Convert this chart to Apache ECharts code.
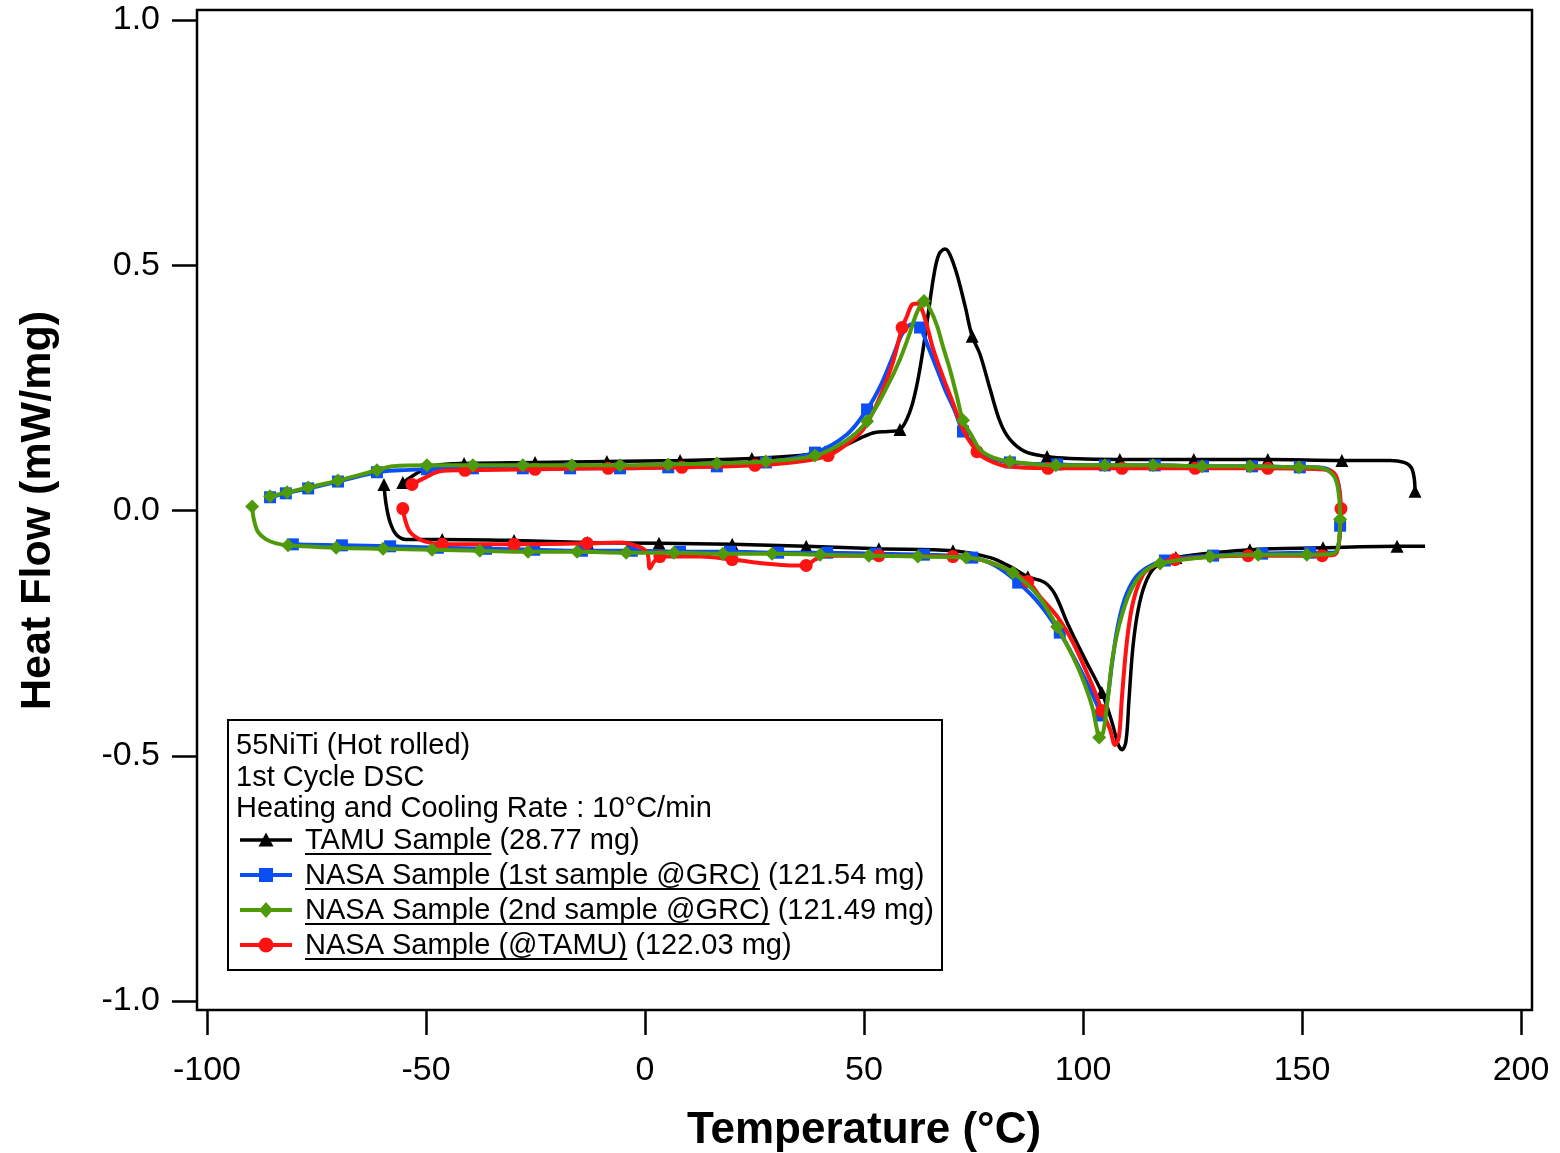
<!DOCTYPE html>
<html><head><meta charset="utf-8">
<script src="https://cdn.jsdelivr.net/npm/echarts@6/dist/echarts.min.js"></script>
<style>html,body{margin:0;padding:0;background:#fff}#c{width:1560px;height:1153px}</style>
</head><body><div id="c"></div>
<script>
// ---------------- DATA ----------------
// each point: [Temperature (°C), Heat flow (mW/mg), markerFlag]
const xTicks = [-100, -50, 0, 50, 100, 150, 200];
const yTicks = [-1.0, -0.5, 0.0, 0.5, 1.0];

const tamuHeat = [[-59.6,0.053,1],[-59.1,0.012],[-58.2,-0.024],[-56.8,-0.049],[-54.6,-0.059],[-46.3,-0.059,1],[-29.9,-0.061,1],[-13.2,-0.065,1],[3.2,-0.067,1],[19.9,-0.069,1],[36.8,-0.073,1],[53.4,-0.078,1],[70.3,-0.082,1],[78.8,-0.096],[83.3,-0.114],[87.4,-0.135,1],[91.3,-0.147],[93.6,-0.171],[96.6,-0.233],[100.5,-0.304],[104.3,-0.371,1],[106.6,-0.431],[108.0,-0.476],[108.9,-0.488],[109.8,-0.471],[110.5,-0.386],[111.4,-0.278],[112.6,-0.202],[114.2,-0.149],[116.4,-0.116],[121.2,-0.096,1],[138.1,-0.080,1],[154.8,-0.076,1],[171.7,-0.073,1],[178.1,-0.073]];

const tamuCool = [[175.8,0.039,1],[175.6,0.067],[174.9,0.088],[173.3,0.098],[170.1,0.102],[159.1,0.102,1],[142.2,0.104,1],[125.3,0.104,1],[108.4,0.104,1],[97.0,0.106],[91.8,0.110,1],[86.8,0.120],[83.3,0.145],[81.1,0.180],[78.8,0.247],[76.5,0.318],[74.7,0.355,1],[73.1,0.416],[71.2,0.482],[69.6,0.522],[68.5,0.533],[67.1,0.522],[66.0,0.482],[64.8,0.410],[63.5,0.329],[62.1,0.257],[60.5,0.202],[58.2,0.165,1],[55.5,0.161],[52.5,0.159],[49.5,0.149],[45.7,0.133],[41.1,0.120,1],[35.4,0.112],[24.4,0.106,1],[8.0,0.102,1],[-8.7,0.100,1],[-25.1,0.098,1],[-41.3,0.096,1],[-47.9,0.092],[-50.9,0.082],[-55.3,0.057,1]];

const grc1Cycle = [[-81.7,-0.067],[-80.4,-0.069,1],[-69.2,-0.071,1],[-58.2,-0.073,1],[-47.3,-0.076,1],[-36.3,-0.078,1],[-25.3,-0.080,1],[-14.4,-0.082,1],[-3.0,-0.082,1],[8.0,-0.084,1],[19.4,-0.084,1],[30.4,-0.086,1],[41.6,-0.086,1],[52.7,-0.088,1],[63.7,-0.090,1],[74.7,-0.096,1],[79.9,-0.112],[85.2,-0.147,1],[90.2,-0.192],[94.7,-0.249,1],[98.2,-0.304],[101.1,-0.355],[103.2,-0.396],[104.1,-0.418,1],[105.3,-0.398],[106.6,-0.314],[108.0,-0.233],[110.0,-0.169],[113.0,-0.127],[118.7,-0.102,1],[129.7,-0.092,1],[140.9,-0.088,1],[151.8,-0.086,1],[157.1,-0.086],[158.2,-0.076],[158.7,-0.031,1],[158.7,0.022],[158.0,0.063],[156.4,0.082],[153.0,0.088],[149.5,0.088,1],[138.6,0.090,1],[127.4,0.090,1],[116.4,0.092,1],[105.0,0.092,1],[94.1,0.094,1],[83.3,0.098,1],[78.1,0.110],[74.7,0.139],[72.6,0.161,1],[70.8,0.202],[68.5,0.247],[66.7,0.288],[64.6,0.335],[62.8,0.373,1],[61.2,0.380],[58.9,0.363],[56.6,0.314],[53.7,0.253],[50.7,0.206,1],[46.1,0.155],[38.8,0.118,1],[27.6,0.098,1],[16.4,0.090,1],[5.3,0.088,1],[-5.7,0.086,1],[-17.1,0.086,1],[-27.9,0.086,1],[-39.3,0.086,1],[-49.8,0.084,1],[-55.9,0.082],[-61.2,0.078,1],[-70.1,0.059,1],[-76.9,0.045,1],[-82.0,0.035,1],[-85.6,0.027,1]];

const grc2Cycle = [[-89.7,0.008,1],[-89.3,-0.018],[-88.4,-0.043],[-86.5,-0.059],[-84.2,-0.067],[-81.5,-0.071,1],[-70.5,-0.076,1],[-59.8,-0.078,1],[-48.6,-0.080,1],[-37.7,-0.082,1],[-26.7,-0.084,1],[-15.5,-0.084,1],[-4.3,-0.086,1],[6.6,-0.086,1],[17.8,-0.088,1],[29.0,-0.088,1],[40.0,-0.090,1],[51.1,-0.092,1],[62.3,-0.094,1],[73.3,-0.096,1],[78.8,-0.106],[84.0,-0.127,1],[89.5,-0.171],[94.1,-0.237,1],[97.7,-0.298],[100.0,-0.345],[102.1,-0.400],[103.2,-0.447],[103.7,-0.463,1],[104.6,-0.453],[105.7,-0.380],[106.8,-0.298],[108.4,-0.229],[110.7,-0.167],[113.7,-0.127],[117.6,-0.108,1],[129.0,-0.094,1],[140.0,-0.090,1],[151.1,-0.090,1],[157.1,-0.088],[158.2,-0.076],[158.7,-0.018,1],[158.4,0.033],[157.5,0.067],[155.3,0.084],[152.3,0.088],[149.3,0.088,1],[138.1,0.090,1],[127.2,0.090,1],[116.0,0.092,1],[105.0,0.092,1],[93.8,0.092,1],[83.3,0.100,1],[79.5,0.108],[76.5,0.124],[74.7,0.151],[72.6,0.184,1],[71.2,0.233],[69.6,0.288],[68.0,0.335],[66.7,0.376],[65.1,0.410],[63.7,0.427,1],[62.1,0.404],[60.5,0.363],[58.2,0.308],[55.3,0.253],[50.7,0.182,1],[45.7,0.141],[38.8,0.112,1],[27.6,0.100,1],[16.4,0.096,1],[5.3,0.094,1],[-5.7,0.092,1],[-16.7,0.092,1],[-27.9,0.092,1],[-39.3,0.092,1],[-49.8,0.092,1],[-57.5,0.090],[-61.2,0.082,1],[-70.1,0.061,1],[-76.9,0.047,1],[-81.7,0.037,1],[-85.6,0.029,1]];

const nasaTamuCycle = [[-55.3,0.004,1],[-54.8,-0.018],[-53.7,-0.043],[-51.4,-0.059],[-48.4,-0.067],[-46.3,-0.069,1],[-29.9,-0.069,1],[-13.2,-0.067,1],[-5.7,-0.065],[-1.6,-0.073],[0.5,-0.086],[1.1,-0.118],[2.1,-0.104],[3.4,-0.094,1],[12.6,-0.094],[19.9,-0.100,1],[27.4,-0.108],[33.1,-0.112],[36.8,-0.112,1],[38.8,-0.100],[41.8,-0.092],[53.4,-0.092,1],[70.3,-0.094,1],[78.8,-0.106],[87.4,-0.145,1],[90.2,-0.176],[94.1,-0.216],[97.7,-0.269],[100.9,-0.331],[103.2,-0.380],[104.3,-0.408,1],[106.2,-0.447],[107.3,-0.478],[108.2,-0.461],[108.9,-0.380],[110.0,-0.269],[111.4,-0.188],[113.7,-0.131],[116.4,-0.112],[121.0,-0.100,1],[137.7,-0.092,1],[154.6,-0.092,1],[157.5,-0.090],[158.4,-0.069],[158.9,0.004,1],[158.2,0.059],[157.1,0.078],[154.1,0.084],[142.2,0.086,1],[125.6,0.086,1],[108.9,0.086,1],[92.0,0.086,1],[82.6,0.090],[78.1,0.104],[75.8,0.120,1],[72.6,0.165],[70.3,0.220],[68.0,0.273],[65.8,0.329],[64.4,0.376],[63.2,0.410],[62.1,0.422],[61.0,0.420],[59.8,0.396],[58.7,0.373,1],[56.6,0.302],[53.7,0.233],[49.8,0.165],[45.7,0.133],[41.8,0.112,1],[35.4,0.100],[25.1,0.092,1],[8.4,0.088,1],[-8.4,0.086,1],[-25.1,0.084,1],[-41.1,0.082,1],[-46.8,0.080],[-50.2,0.067],[-53.2,0.053,1]];

const headerLines = ['55NiTi (Hot rolled)', '1st Cycle DSC', 'Heating and Cooling Rate : 10°C/min'];
const sampleNames = ['TAMU Sample', 'NASA Sample (1st sample @GRC)', 'NASA Sample (2nd sample @GRC)', 'NASA Sample (@TAMU)'];
const sampleMasses = ['(28.77 mg)', '(121.54 mg)', '(121.49 mg)', '(122.03 mg)'];
const xTitle = 'Temperature (°C)';
const yTitle = 'Heat Flow (mW/mg)';

// ---------------- STYLE ----------------
const FONT = '"Liberation Sans", Arial, Helvetica, sans-serif';
const styles = [
  {color:'#000000', symbol:'triangle', size:13, width:3.5},
  {color:'#0a4ff5', symbol:'rect', size:12, width:4},
  {color:'#4e9a0a', symbol:'diamond', size:14, width:4},
  {color:'#ff1212', symbol:'circle', size:13, width:4}
];

function lineSeries(name, data, st, z) {
  return {
    type:'line', name, data,
    dimensions:['t','hf','m'], encode:{x:'t', y:'hf'},
    smooth:0.35, showSymbol:true, showAllSymbol:true,
    symbol:st.symbol, symbolSize:(v)=> (v[2] ? st.size : 0),
    lineStyle:{color:st.color, width:st.width},
    itemStyle:{color:st.color, borderWidth:0},
    emphasis:{disabled:true}, z:z, animation:false
  };
}

// ---------------- LEGEND (graphic) ----------------
const LFS = 29;
const mctx = document.createElement('canvas').getContext('2d');
mctx.font = LFS + 'px ' + FONT;
function tw(s){ return mctx.measureText(s).width; }

const legendEls = [];
legendEls.push({type:'rect', shape:{x:228, y:720, width:714, height:250},
  style:{fill:'#fff', stroke:'#000', lineWidth:2}, z:50, silent:true});
const headerY = [746, 778, 809];
headerLines.forEach((t,i)=>{
  legendEls.push({type:'text', x:236, y:headerY[i], z:51, silent:true,
    style:{text:t, font:LFS+'px '+FONT, fill:'#000', align:'left', verticalAlign:'middle', textAlign:'left', textVerticalAlign:'middle'}});
});
const entryY = [841, 876, 911, 946];
const legendOrder = [0,1,2,3];
legendOrder.forEach((k,i)=>{
  const st = styles[k], y = entryY[i];
  const ly = y - 1;
  legendEls.push({type:'line', shape:{x1:240, y1:ly, x2:292, y2:ly}, style:{stroke:st.color, lineWidth:st.width}, z:51, silent:true});
  const cx = 266, s = st.size;
  if (st.symbol === 'triangle') legendEls.push({type:'polygon', shape:{points:[[cx, ly-s/2-1],[cx-s/2-1, ly+s/2],[cx+s/2+1, ly+s/2]]}, style:{fill:st.color}, z:52, silent:true});
  else if (st.symbol === 'rect') legendEls.push({type:'rect', shape:{x:cx-s/2-1, y:ly-s/2-1, width:s+2, height:s+2}, style:{fill:st.color}, z:52, silent:true});
  else if (st.symbol === 'diamond') legendEls.push({type:'polygon', shape:{points:[[cx, ly-s/2-1],[cx+s/2, ly],[cx, ly+s/2+1],[cx-s/2, ly]]}, style:{fill:st.color}, z:52, silent:true});
  else legendEls.push({type:'circle', shape:{cx:cx, cy:ly, r:s/2+1}, style:{fill:st.color}, z:52, silent:true});
  const nx = 305, w = tw(sampleNames[k]);
  legendEls.push({type:'text', x:nx, y:y, z:51, silent:true,
    style:{text:sampleNames[k], font:LFS+'px '+FONT, fill:'#000', align:'left', verticalAlign:'middle', textAlign:'left', textVerticalAlign:'middle'}});
  legendEls.push({type:'line', shape:{x1:nx, y1:y+13, x2:nx+w, y2:y+13}, style:{stroke:'#000', lineWidth:2}, z:51, silent:true});
  legendEls.push({type:'text', x:nx+w+tw(' '), y:y, z:51, silent:true,
    style:{text:sampleMasses[k], font:LFS+'px '+FONT, fill:'#000', align:'left', verticalAlign:'middle', textAlign:'left', textVerticalAlign:'middle'}});
});

// plot frame
const frame = {type:'rect', shape:{x:197, y:10, width:1335, height:1000},
  style:{fill:null, stroke:'#000', lineWidth:2.5}, z:40, silent:true};

// ---------------- CHART ----------------
const chart = echarts.init(document.getElementById('c'), null, {renderer:'canvas'});
chart.setOption({
  animation:false,
  backgroundColor:'#fff',
  grid:{left:207, right:39, top:20, bottom:152, containLabel:false, outerBoundsMode:'none'},
  xAxis:{type:'value', min:xTicks[0], max:xTicks[xTicks.length-1], interval:xTicks[1]-xTicks[0], offset:9,
    axisLine:{show:false, onZero:false}, splitLine:{show:false},
    axisTick:{show:true, length:25, lineStyle:{color:'#000', width:2.5}},
    axisLabel:{margin:44, fontSize:34, color:'#000', fontFamily:FONT},
    name:xTitle, nameLocation:'middle', nameGap:99,
    nameTextStyle:{fontSize:44, fontWeight:'bold', color:'#000', fontFamily:FONT}},
  yAxis:{type:'value', min:yTicks[0], max:yTicks[yTicks.length-1], interval:yTicks[1]-yTicks[0], offset:10,
    axisLine:{show:false, onZero:false}, splitLine:{show:false},
    axisTick:{show:true, length:25, lineStyle:{color:'#000', width:2.5}},
    axisLabel:{margin:37, fontSize:34, color:'#000', fontFamily:FONT, formatter:(v)=>v.toFixed(1)},
    name:yTitle, nameLocation:'middle', nameGap:137,
    nameTextStyle:{fontSize:43, fontWeight:'bold', color:'#000', fontFamily:FONT}},
  graphic:[frame].concat(legendEls),
  series:[
    lineSeries(sampleNames[0], tamuHeat, styles[0], 2),
    lineSeries(sampleNames[0], tamuCool, styles[0], 2),
    lineSeries(sampleNames[1], grc1Cycle, styles[1], 3),
    lineSeries(sampleNames[3], nasaTamuCycle, styles[3], 4),
    lineSeries(sampleNames[2], grc2Cycle, styles[2], 5)
  ]
});
</script></body></html>
